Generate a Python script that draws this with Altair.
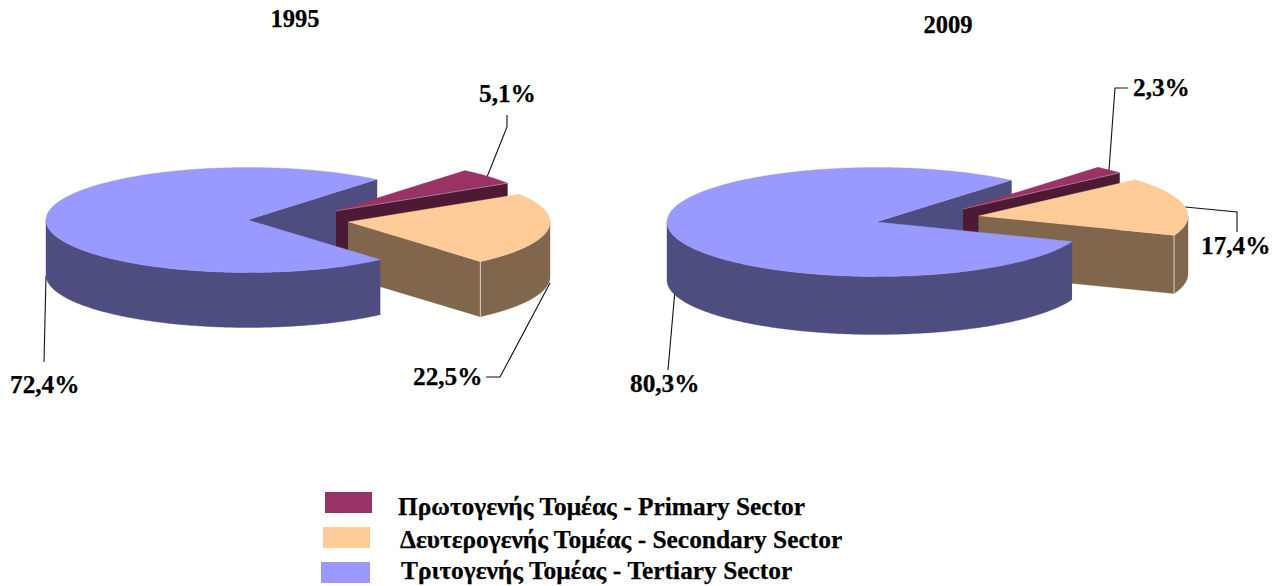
import altair as alt
import numpy as np
import pandas as pd

# Data
years = ["1995", "2009"]
sectors = ["Primary", "Secondary", "Tertiary"]
shares_1995 = [5.1, 22.5, 72.4]
shares_2009 = [2.3, 17.4, 80.3]
label_1995 = ["5,1%", "22,5%", "72,4%"]
label_2009 = ["2,3%", "17,4%", "80,3%"]
legend_labels = [
    "Πρωτογενής Τομέας - Primary Sector",
    "Δευτερογενής Τομέας - Secondary Sector",
    "Τριτογενής Τομέας - Tertiary Sector",
]
top_colors = ["#993366", "#FFCC99", "#9999FF"]
side_colors = ["#4D1A33", "#80664D", "#4D4D80"]

FONT = "Liberation Serif"
X = alt.X("x:Q", scale=alt.Scale(domain=[8, 1273], nice=False, zero=False), axis=None)
Y = alt.Y("y:Q", scale=alt.Scale(domain=[586, 8], nice=False, zero=False), axis=None)


def poly(pts, color):
    df = pd.DataFrame(pts, columns=["x", "y"])
    df["i"] = range(len(df))
    return alt.Chart(df).mark_line(filled=True, fill=color, stroke=color, strokeWidth=0.4,
                                   interpolate="linear").encode(x=X, y=Y, order=alt.Order("i:Q"))


def line(pts, color="#111111", width=1.1):
    df = pd.DataFrame(pts, columns=["x", "y"])
    df["i"] = range(len(df))
    return alt.Chart(df).mark_line(color=color, strokeWidth=width).encode(x=X, y=Y, order=alt.Order("i:Q"))


def text(s, x, y, align="left", size=25.3):
    df = pd.DataFrame({"x": [x], "y": [y], "t": [s]})
    return alt.Chart(df).mark_text(font=FONT, fontSize=size, fontWeight="bold", align=align,
                                   baseline="alphabetic", color="#000000",
                                   stroke="#000000", strokeWidth=0.25).encode(x=X, y=Y, text="t:N")


def arc(c, a, b, t0, t1, dy=0.0, n=90):
    ts = np.radians(np.linspace(t0, t1, n))
    return [(c[0] + a * np.cos(t), c[1] - b * np.sin(t) + dy) for t in ts]


def pie(shares, centers, a, b, depth, start):
    spans = [s * 3.6 for s in shares]
    p0, p1 = start, start - spans[0]
    s0, s1 = p1, p1 - spans[1]
    t0, t1 = s1, s1 - spans[2]
    cp, cs, ct = centers
    L = []
    # back wall of the largest slice
    u = arc(ct, a, b, t1, t1, n=1)[0]
    L.append(poly([ct, u, (u[0], u[1] + depth), (ct[0], ct[1] + depth)], side_colors[2]))
    # primary slice
    u = arc(cp, a, b, p1, p1, n=1)[0]
    L.append(poly([cp, u, (u[0], u[1] + depth), (cp[0], cp[1] + depth)], side_colors[0]))
    L.append(poly([cp] + arc(cp, a, b, p0, p1), top_colors[0]))
    L.append(line([cp, u], "#C9A0B4", 0.5))
    # secondary slice
    v = arc(cs, a, b, s1, s1, n=1)[0]
    L.append(poly([cs, v, (v[0], v[1] + depth), (cs[0], cs[1] + depth)], side_colors[1]))
    rim = arc(cs, a, b, s1, 0)
    L.append(poly(rim + arc(cs, a, b, 0, s1, dy=depth), side_colors[1]))
    L.append(poly([cs] + arc(cs, a, b, s0, s1), top_colors[1]))
    L.append(line([v, (v[0], v[1] + depth)], "#D8D0C8", 1.0))
    # tertiary slice
    rim = arc(ct, a, b, t0, -180, n=180)
    L.append(poly(rim + arc(ct, a, b, -180, t0, dy=depth, n=180), side_colors[2]))
    L.append(poly([ct] + arc(ct, a, b, t0, t1, n=240), top_colors[2]))
    return L


layers = []
# leader lines
layers += [
    line([(487, 177), (507, 127), (507, 115)]),
    line([(550, 283), (500, 377), (486, 377)]),
    line([(46, 276), (44, 362)]),
    line([(1109, 170), (1115, 88), (1128, 88)]),
    line([(1185, 207), (1237, 212), (1237, 232)]),
    line([(675, 290), (668, 370)]),
]
layers += pie(shares_1995, [(336, 211), (348, 222), (248, 220)], 202, 52.5, 55, 50.3)
layers += pie(shares_2009, [(963, 209), (978.5, 216), (876.5, 222)], 209.5, 54.5, 58, 49.9)

# titles and labels
layers += [text(years[0], 295, 27, "center", 24.6), text(years[1], 948, 33, "center", 24.6)]
layers += [
    text(label_1995[0], 479, 102),
    text(label_1995[1], 413, 385),
    text(label_1995[2], 10, 393),
    text(label_2009[0], 1133, 96),
    text(label_2009[1], 1201, 254),
    text(label_2009[2], 630, 392),
]

# legend
swatches = [(325, 372, 492, 513), (323, 370, 527, 548), (321, 370, 562, 583)]
for (x0, x1, y0, y1), c in zip(swatches, top_colors):
    df = pd.DataFrame({"x": [x0], "x2": [x1], "y": [y0], "y2": [y1]})
    layers.append(alt.Chart(df).mark_rect(color=c).encode(x=X, x2="x2:Q", y=Y, y2="y2:Q"))
layers += [
    text(legend_labels[0], 398, 515, size=25.4),
    text(legend_labels[1], 400, 548, size=25.4),
    text(legend_labels[2], 401, 579, size=25.4),
]

chart = alt.layer(*layers).properties(
    width=1265, height=578, padding=0, background="#FFFFFF",
    autosize=alt.AutoSizeParams(type="none"),
).configure_view(stroke=None)

chart.save("out.html", embed_options={"renderer": "svg", "actions": False})
